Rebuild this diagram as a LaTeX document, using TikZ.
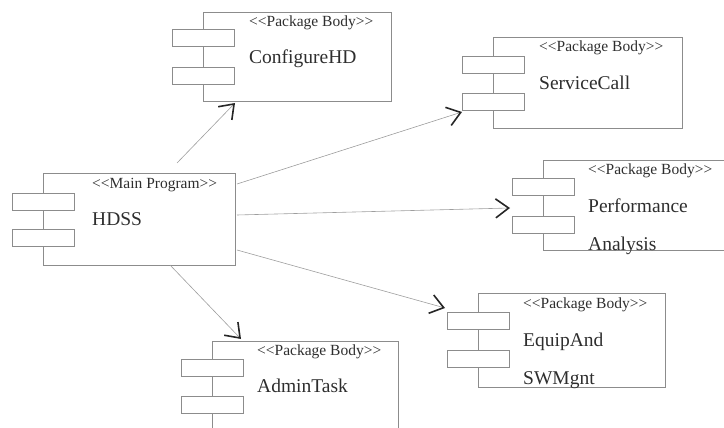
\documentclass[tikz,border=0pt]{standalone}
\usepackage{fontspec}
\setmainfont{Liberation Serif}
\usetikzlibrary{arrows.meta}
\definecolor{boxline}{gray}{0.55}
\definecolor{wireline}{gray}{0.62}
\definecolor{inktext}{gray}{0.18}
% stereotype brackets, kept as separate glyphs
\newcommand\guil[1]{<\kern0pt<#1>\kern0pt>}
% component: box with two ports on its left edge
% #1 name, #2 left, #3 top, #4 width, #5 height, #6/#7 port offsets from top
\newcommand\umlcomp[7]{%
  \node[compbox, minimum width=#4pt, minimum height=#5pt] (#1) at (#2,#3) {};
  \node[port] (#1-p1) at ([yshift=-#6pt]#1.north west) {};
  \node[port] (#1-p2) at ([yshift=-#7pt]#1.north west) {};
}
\begin{document}
\begin{tikzpicture}[x=1pt,y=-1pt,
  compbox/.style={draw=boxline, line width=0.6pt, inner sep=0pt, anchor=north west},
  port/.style={draw=boxline, fill=white, line width=0.6pt, minimum width=62pt,
    minimum height=17pt, inner sep=0pt, anchor=north},
  stereotype/.style={font=\fontsize{15.5}{18}\selectfont, text=inktext,
    inner sep=0pt, anchor=base west},
  cname/.style={font=\fontsize{19.5}{22}\selectfont, text=inktext,
    inner sep=0pt, anchor=base west},
  dep/.style={draw=wireline, line width=0.6pt,
    -{Straight Barb[length=13pt,width=19pt,line width=1.6pt,color=black!85]}},
]
\useasboundingbox (0,0) rectangle (724,428);
\clip (0,0) rectangle (724,428);

% components
\umlcomp{main}{43}{173}{192}{92}{20}{56}
\umlcomp{cfg}{203}{12}{188}{89}{17}{55}
\umlcomp{sc}{493}{37}{189}{91}{19}{56}
\umlcomp{perf}{543}{160}{200}{90}{18}{56}
\umlcomp{adm}{212}{341}{186}{100}{18}{55}
\umlcomp{eq}{478}{293}{187}{94}{19}{57}

% labels
\node[stereotype] (main-s) at ([xshift=49pt,yshift=-16pt]main.north west) {\guil{Main Program}};
\node[cname] (main-n) at ([xshift=49pt,yshift=-52pt]main.north west) {HDSS};

\node[stereotype] (cfg-s) at ([xshift=46pt,yshift=-15pt]cfg.north west) {\guil{Package Body}};
\node[cname] (cfg-n) at ([xshift=46pt,yshift=-52pt]cfg.north west) {ConfigureHD};

\node[stereotype] (sc-s) at ([xshift=46pt,yshift=-15pt]sc.north west) {\guil{Package Body}};
\node[cname] (sc-n) at ([xshift=46pt,yshift=-53pt]sc.north west) {ServiceCall};

\node[stereotype] (perf-s) at ([xshift=45pt,yshift=-15pt]perf.north west) {\guil{Package Body}};
\node[cname] (perf-n) at ([xshift=45pt,yshift=-52pt]perf.north west) {Performance};
\node[cname] (perf-n2) at ([xshift=45pt,yshift=-90pt]perf.north west) {Analysis};

\node[stereotype] (adm-s) at ([xshift=45pt,yshift=-14pt]adm.north west) {\guil{Package Body}};
\node[cname] (adm-n) at ([xshift=45pt,yshift=-51pt]adm.north west) {AdminTask};

\node[stereotype] (eq-s) at ([xshift=45pt,yshift=-15pt]eq.north west) {\guil{Package Body}};
\node[cname] (eq-n) at ([xshift=45pt,yshift=-53pt]eq.north west) {EquipAnd};
\node[cname] (eq-n2) at ([xshift=45pt,yshift=-91pt]eq.north west) {SWMgnt};

% connector ends
\coordinate (main-o1) at (177,163);
\coordinate (main-o2) at (237,184);
\coordinate (main-o3) at (237,215);
\coordinate (main-o4) at (237,250);
\coordinate (main-o5) at (170,265);
\coordinate (cfg-in) at (235,103);
\coordinate (sc-in) at (462,112);
\coordinate (perf-in) at (510,208);
\coordinate (eq-in) at (445,308);
\coordinate (adm-in) at (241,339);

% dependencies
\draw[dep] (main-o1) -- (cfg-in);
\draw[dep] (main-o2) -- (sc-in);
\draw[dep] (main-o3) -- (perf-in);
\draw[dep] (main-o4) -- (eq-in);
\draw[dep] (main-o5) -- (adm-in);
\end{tikzpicture}
\end{document}
